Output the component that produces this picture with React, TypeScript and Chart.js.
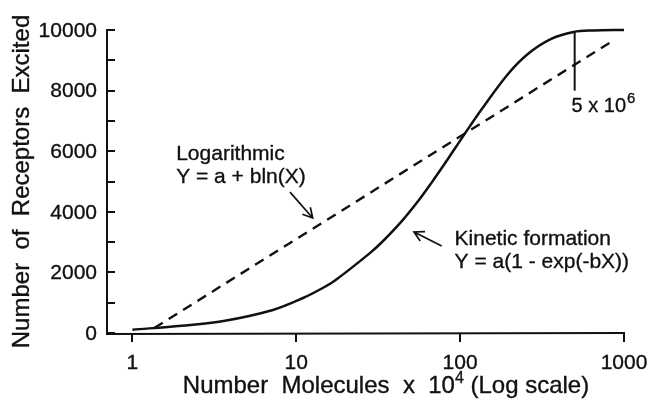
import React, { useEffect, useRef } from 'react';
import { Chart, registerables } from 'chart.js';

Chart.register(...registerables);

// ---- axis ranges & ticks ----
const X_MIN = 0.746;
const X_MAX = 1000;
const Y_MIN = 0;
const Y_MAX = 10000;

const xTickValues = [1, 10, 100, 1000];
const xTickLabels = ['1', '10', '100', '1000'];
const yTickValues = [0, 2000, 4000, 6000, 8000, 10000];
const yTickLabels = ['0', '2000', '4000', '6000', '8000', '10000'];
const yMinorTickValues = [1000, 3000, 5000, 7000, 9000];

// ---- series ----
const kineticX = [1, 2, 3.6, 7.2, 11, 14.5, 17.4, 27.9, 33.4, 44.2, 56.8, 66, 85, 102, 135, 196, 259, 357, 492, 650, 1000];
const kineticY = [110, 240, 396, 760, 1155, 1485, 1750, 2620, 3003, 3700, 4429, 4914, 5776, 6416, 7376, 8550, 9210, 9700, 9935, 9985, 10000];

const logX = [1.36, 859];
const logY = [165, 9650];

const markerX = [500, 500];
const markerY = [8000, 9935];

// ---- annotations (data coordinates) ----
const logLabelLines = ['Logarithmic', 'Y = a + bln(X)'];
const logLabelAt = { x: 1.85, y: [5710, 4950] };
const kinLabelLines = ['Kinetic formation', 'Y = a(1 - exp(-bX))'];
const kinLabelAt = { x: 92.5, y: [2905, 2145] };
const logArrow = { from: { x: 9.16, y: 4650 }, to: { x: 12.6, y: 3795 } };
const kinArrow = { from: { x: 77.2, y: 2870 }, to: { x: 52.3, y: 3335 } };
const markerLabel = { base: '5 x 10', sup: '6', x: 479, y: 7295 };

const xTitleRuns = [
  { t: 'Number  Molecules  x  10', size: 24, dy: 0 },
  { t: '4', size: 16, dy: -10 },
  { t: ' (Log scale)', size: 24, dy: 0 },
];
const yTitle = 'Number  of  Receptors  Excited';

const FONT = '"Liberation Sans", Arial, Helvetica, sans-serif';
const INK = '#111';

function pts(xs: number[], ys: number[]) {
  return xs.map((x, i) => ({ x, y: ys[i] }));
}

function drawArrow(ctx: CanvasRenderingContext2D, x1: number, y1: number, x2: number, y2: number) {
  const ang = Math.atan2(y2 - y1, x2 - x1);
  const len = 11;
  const spread = 0.5;
  ctx.beginPath();
  ctx.moveTo(x1, y1);
  ctx.lineTo(x2, y2);
  ctx.moveTo(x2 - len * Math.cos(ang - spread), y2 - len * Math.sin(ang - spread));
  ctx.lineTo(x2, y2);
  ctx.lineTo(x2 - len * Math.cos(ang + spread), y2 - len * Math.sin(ang + spread));
  ctx.stroke();
}

function text(ctx: CanvasRenderingContext2D, t: string, x: number, y: number) {
  ctx.fillText(t, x, y);
  ctx.strokeText(t, x, y);
}

const drawPlugin = {
  id: 'paperAxes',
  afterDatasetsDraw(chart: any) {
    const ctx: CanvasRenderingContext2D = chart.ctx;
    const xs = chart.scales.x;
    const ys = chart.scales.y;
    const px = (v: number) => xs.getPixelForValue(v);
    const py = (v: number) => ys.getPixelForValue(v);
    const left = xs.left;
    const bottom = ys.bottom;

    ctx.save();
    ctx.strokeStyle = INK;
    ctx.fillStyle = INK;
    ctx.lineCap = 'butt';

    // axis lines
    ctx.lineWidth = 2;
    ctx.beginPath();
    ctx.moveTo(left, py(Y_MAX) - 1);
    ctx.lineTo(left, bottom + 1);
    ctx.lineTo(px(X_MAX) + 1, bottom);
    ctx.stroke();

    // y ticks (inward)
    [...yTickValues, ...yMinorTickValues].forEach((v) => {
      const yy = Math.round(py(v));
      ctx.beginPath();
      ctx.moveTo(left, yy);
      ctx.lineTo(left + 8, yy);
      ctx.stroke();
    });
    // x ticks (outward)
    xTickValues.forEach((v) => {
      const xx = Math.round(px(v));
      ctx.beginPath();
      ctx.moveTo(xx, bottom);
      ctx.lineTo(xx, bottom + 9);
      ctx.stroke();
    });

    // text: slight stroke to thicken glyphs
    ctx.lineWidth = 0.35;
    ctx.lineJoin = 'round';

    // tick labels
    ctx.font = `21px ${FONT}`;
    ctx.textAlign = 'right';
    ctx.textBaseline = 'middle';
    yTickValues.forEach((v, i) => text(ctx, yTickLabels[i], left - 10, py(v) + 1));
    ctx.textAlign = 'center';
    ctx.textBaseline = 'alphabetic';
    xTickValues.forEach((v, i) => text(ctx, xTickLabels[i], px(v), bottom + 36));

    // x title with superscript
    let total = 0;
    xTitleRuns.forEach((r) => {
      ctx.font = `${r.size}px ${FONT}`;
      total += ctx.measureText(r.t).width;
    });
    let cx = 386 - total / 2;
    ctx.textAlign = 'left';
    xTitleRuns.forEach((r) => {
      ctx.font = `${r.size}px ${FONT}`;
      text(ctx, r.t, cx, bottom + 60 + r.dy);
      cx += ctx.measureText(r.t).width;
    });

    // y title (rotated)
    ctx.save();
    ctx.translate(29, (ys.top + ys.bottom) / 2);
    ctx.rotate(-Math.PI / 2);
    ctx.font = `24px ${FONT}`;
    ctx.textAlign = 'center';
    ctx.textBaseline = 'alphabetic';
    text(ctx, yTitle, 0, 0);
    ctx.restore();

    // annotation labels
    ctx.font = `21px ${FONT}`;
    ctx.textAlign = 'left';
    ctx.textBaseline = 'alphabetic';
    logLabelLines.forEach((t, i) => text(ctx, t, px(logLabelAt.x), py(logLabelAt.y[i])));
    kinLabelLines.forEach((t, i) => text(ctx, t, px(kinLabelAt.x), py(kinLabelAt.y[i])));

    ctx.font = `20px ${FONT}`;
    const mx = px(markerLabel.x);
    const my = py(markerLabel.y);
    text(ctx, markerLabel.base, mx, my);
    const bw = ctx.measureText(markerLabel.base).width;
    ctx.font = `15px ${FONT}`;
    text(ctx, markerLabel.sup, mx + bw + 1, my - 9);

    // arrows
    ctx.lineWidth = 1.7;
    ctx.lineJoin = 'miter';
    drawArrow(ctx, px(logArrow.from.x), py(logArrow.from.y), px(logArrow.to.x), py(logArrow.to.y));
    drawArrow(ctx, px(kinArrow.from.x), py(kinArrow.from.y), px(kinArrow.to.x), py(kinArrow.to.y));

    ctx.restore();
  },
};

export default function App() {
  const ref = useRef<HTMLCanvasElement>(null);
  useEffect(() => {
    const canvas = ref.current;
    if (!canvas) return;
    const chart = new Chart(canvas, {
      type: 'line',
      data: {
        datasets: [
          {
            label: 'Kinetic formation',
            data: pts(kineticX, kineticY),
            borderColor: INK,
            borderWidth: 2.5,
            pointRadius: 0,
            fill: false,
            tension: 0.35,
            clip: false,
          },
          {
            label: 'Logarithmic',
            data: pts(logX, logY),
            borderColor: INK,
            borderWidth: 2.4,
            borderDash: [10, 7],
            pointRadius: 0,
            fill: false,
            tension: 0,
            clip: false,
          },
          {
            label: '5 x 10^6',
            data: pts(markerX, markerY),
            borderColor: INK,
            borderWidth: 2,
            pointRadius: 0,
            fill: false,
            tension: 0,
            clip: false,
          },
        ],
      } as any,
      options: {
        responsive: false,
        animation: false,
        devicePixelRatio: 1,
        layout: { padding: { left: 107, right: 25, top: 30, bottom: 73 } },
        plugins: { legend: { display: false }, tooltip: { enabled: false }, title: { display: false } },
        scales: {
          x: { type: 'logarithmic', min: X_MIN, max: X_MAX, display: false },
          y: { type: 'linear', min: Y_MIN, max: Y_MAX, display: false },
        },
      } as any,
      plugins: [drawPlugin],
    });
    return () => chart.destroy();
  }, []);

  return (
    <div style={{ position: 'absolute', left: 0, top: 0, width: 649, height: 406, background: '#fff' }}>
      <canvas ref={ref} width={649} height={406} style={{ display: 'block', width: 649, height: 406 }} />
    </div>
  );
}
